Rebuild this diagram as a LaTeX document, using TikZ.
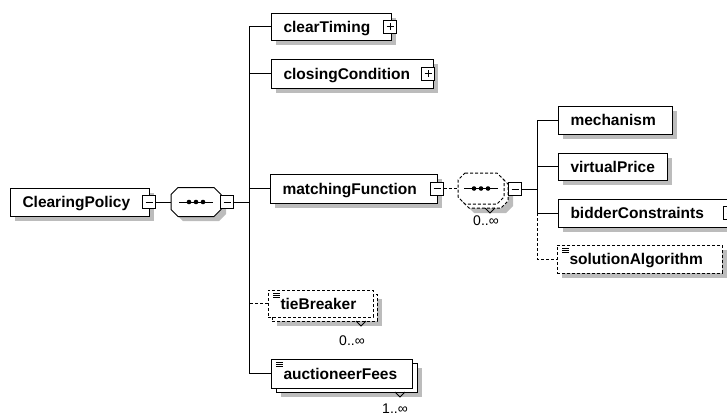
\documentclass[tikz,border=0pt]{standalone}
\usepackage{fontspec}
\setmainfont{Liberation Sans}
\definecolor{shgray}{RGB}{188,188,188}
\tikzset{
  elem/.style={rectangle, draw, fill=white, line width=1pt, inner sep=0pt, outer sep=0pt},
  optional/.style={dash pattern=on 3pt off 2pt},
  slot/.style={rectangle, inner sep=0pt, outer sep=0pt},
  shadowfill/.style={fill=shgray, draw=none},
  lbl/.style={font=\bfseries\fontsize{15.5}{18}\selectfont, inner sep=0pt, anchor=base west},
  mult/.style={font=\fontsize{14}{16}\selectfont, inner sep=0pt},
  minusbox/.style={rectangle, draw, fill=white, line width=1pt, minimum size=13pt, inner sep=0pt, outer sep=0pt,
    path picture={\draw[solid, line width=1pt] ([xshift=3pt]path picture bounding box.west) -- ([xshift=-3pt]path picture bounding box.east);}},
  plusbox/.style={rectangle, draw, fill=white, line width=1pt, minimum size=13pt, inner sep=0pt, outer sep=0pt,
    path picture={\draw[solid, line width=1pt] ([xshift=3pt]path picture bounding box.west) -- ([xshift=-3pt]path picture bounding box.east)
      ([yshift=3pt]path picture bounding box.south) -- ([yshift=-3pt]path picture bounding box.north);}},
}
% grey drop shadow of a box at x, y (top left), width, height
\newcommand\shadowat[4]{%
  \path[shadowfill] ({#1+5},{#2+5}) rectangle ({#1+5+#3},{#2+5+#4});}
% element box with its name set left-aligned inside
\newcommand\xbox[7]{%
  \node[#2, anchor=north west, minimum width=#5, minimum height=#6] (#1) at (#3,#4) {};
  \node[lbl] (#1-txt) at ([xshift=12pt,yshift=-5.5pt]#1.west) {#7};}
% octagon of a compositor: style, x, y (top left), width, height
\newcommand\octat[5]{%
  \path[line width=1pt, #1] ({#2+7},#3) -- ({#2+#4-7},#3) -- ({#2+#4},{#3+7}) -- ({#2+#4},{#3+#5-7})
    -- ({#2+#4-7},{#3+#5}) -- ({#2+7},{#3+#5}) -- (#2,{#3+#5-7}) -- (#2,{#3+7}) -- cycle;}
% sequence symbol: a line with three dots
\newcommand\seqdots[1]{%
  \draw[solid, line width=1pt] ([xshift=-17pt]#1.center) -- ([xshift=17pt]#1.center);
  \foreach \d in {-7,0,7} \fill[black] ([xshift=\d pt]#1.center) circle (2.3pt);}
% marker for elements with simple content
\newcommand\simplemark[1]{%
  \foreach \k in {3,5,7} \draw[solid, line width=0.7pt] ([xshift=5pt,yshift=-\k pt]#1.north west) -- ++(7,0);}
% notch under a repeated item
\newcommand\notch[2]{%
  \draw[solid, line width=1pt] ([xshift=-#2pt]#1.south east) -- ++(-5,5) -- ++(-5,-5);}

\begin{document}
\begin{tikzpicture}[x=1pt, y=-1pt, line width=1pt]
\useasboundingbox (0,0) rectangle (727,416);

% root element and its sequence
\shadowat{10}{188}{139}{28}
\xbox{cp}{elem}{10}{188}{139}{28}{ClearingPolicy}
\node[minusbox] (cpI) at (149,202) {};
\octat{shadowfill}{176}{192}{50}{29}
\octat{draw, fill=white}{171}{187.5}{50}{29}
\node[slot, minimum width=50pt, minimum height=29pt] (seqA) at (196,202) {};
\seqdots{seqA}
\node[minusbox] (seqAI) at (227,202) {};
\draw (cpI.east) -- (seqA.west);
\coordinate (busA) at (249,0);

% children of the outer sequence
\shadowat{271}{13}{120}{27}
\xbox{ct}{elem}{271}{13}{120}{27}{clearTiming}
\node[plusbox] (ctI) at (390,26.5) {};
\shadowat{271}{59}{162}{29}
\xbox{cc}{elem}{271}{59}{162}{29}{closingCondition}
\node[plusbox] (ccI) at (428,73.5) {};
\shadowat{270}{174}{167}{29}
\xbox{mf}{elem}{270}{174}{167}{29}{matchingFunction}
\node[minusbox] (mfI) at (437,188.5) {};

% tieBreaker (optional, repeated)
\shadowat{272}{294}{105}{27}
\node[elem, optional, anchor=north west, minimum width=105, minimum height=27] (tbB) at (272,294) {};
\notch{tbB}{11}
\xbox{tb}{elem,optional}{268}{290}{105}{27}{tieBreaker}
\simplemark{tb}
\node[mult] (tbM) at (352,341) {0..∞};

% auctioneerFees (repeated)
\shadowat{276}{363}{141}{29}
\node[elem, anchor=north west, minimum width=141, minimum height=29] (afB) at (276,363) {};
\notch{afB}{12}
\xbox{af}{elem}{271}{359}{141}{29}{auctioneerFees}
\simplemark{af}
\node[mult] (afM) at (395,409) {1..∞};

% outer bus
\draw (seqAI.east) -- (seqAI.east -| busA);
\draw (ct.west -| busA) -- (af.west -| busA);
\draw (ct.west) -- (ct.west -| busA);
\draw (cc.west) -- (cc.west -| busA);
\draw (mf.west) -- (mf.west -| busA);
\draw (af.west) -- (af.west -| busA);
\draw[optional] (tb.west) -- (tb.west -| busA);

% inner sequence (optional, repeated)
\octat{shadowfill}{467}{182}{46}{31}
\octat{draw, fill=white, optional}{462}{177}{46}{31}
\node[slot, minimum width=46pt, minimum height=31pt] (seqBb) at (485,192.5) {};
\notch{seqBb}{13}
\octat{draw, fill=white, optional}{458}{173}{46}{31}
\node[slot, minimum width=46pt, minimum height=31pt] (seqB) at (481,188.5) {};
\seqdots{seqB}
\node[minusbox] (seqBI) at (515,189) {};
\node[mult] (seqBM) at (486,221) {0..∞};
\draw[optional] (mfI.east) -- (seqB.west);
\coordinate (busB) at (537,0);

% children of the inner sequence
\shadowat{558}{106}{114}{28}
\xbox{me}{elem}{558}{106}{114}{28}{mechanism}
\shadowat{558}{153}{109}{27}
\xbox{vp}{elem}{558}{153}{109}{27}{virtualPrice}
\shadowat{558}{199}{173}{28}
\xbox{bc}{elem}{558}{199}{173}{28}{bidderConstraints}
\node[plusbox] (bcI) at (730,213) {};
\shadowat{557}{245}{165}{28}
\xbox{sa}{elem,optional}{557}{245}{165}{28}{solutionAlgorithm}
\simplemark{sa}

% inner bus
\draw (seqBI.east) -- (seqBI.east -| busB);
\draw (me.west -| busB) -- (bc.west -| busB);
\draw (me.west) -- (me.west -| busB);
\draw (vp.west) -- (vp.west -| busB);
\draw (bc.west) -- (bc.west -| busB);
\draw[optional] (bc.west -| busB) -- (sa.west -| busB) -- (sa.west);
\end{tikzpicture}
\end{document}
